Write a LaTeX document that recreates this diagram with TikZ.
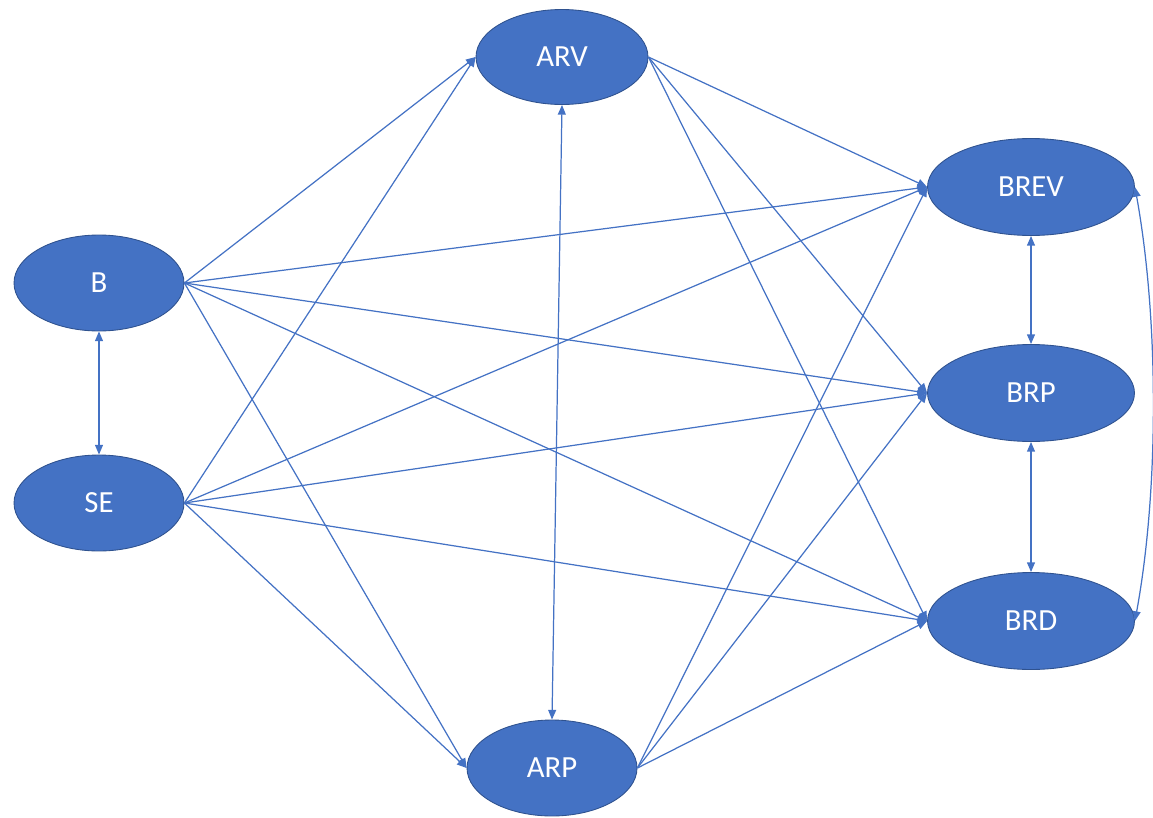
\documentclass[tikz,border=0pt]{standalone}
\usepackage{fontspec}
\setmainfont{Carlito}
\usetikzlibrary{arrows.meta,shapes.geometric}
\definecolor{nodeblue}{HTML}{4472C4}
\definecolor{rimblue}{HTML}{2F528F}
\begin{document}
\begin{tikzpicture}[x=0.02cm,y=-0.02cm,
  var/.style={ellipse,fill=nodeblue,draw=rimblue,line width=0.5pt,
    text=white,font=\fontsize{17.5}{20}\selectfont,inner sep=0pt,
    minimum width=3.4cm,minimum height=1.92cm},
  wide/.style={var,minimum width=4.14cm,minimum height=1.94cm},
  path/.style={draw=nodeblue,line width=0.7pt,
    -{Triangle[length=5.5pt,width=4.5pt]}},
  both/.style={path,{Triangle[length=5.5pt,width=4.5pt]}-{Triangle[length=5.5pt,width=4.5pt]}}]
\useasboundingbox (0,0) rectangle (1153,818);

% latent variables
\node[var] (B)   at (99,283)  {B};
\node[var] (SE)  at (99,503)  {SE};
\node[var,minimum width=3.44cm,minimum height=1.9cm] (ARV) at (562,57) {ARV};
\node[var] (ARP) at (552,768) {ARP};
\node[wide] (BREV) at (1031,187) {BREV};
\node[wide] (BRP)  at (1031,393) {BRP};
\node[wide] (BRD)  at (1031,621) {BRD};

% paths from B and SE
\foreach \s in {B,SE}{
  \foreach \t in {ARV,ARP,BREV,BRP,BRD}{
    \draw[path] (\s.east) -- (\t.west);
  }
}
% paths from ARV and ARP
\foreach \s in {ARV,ARP}{
  \foreach \t in {BREV,BRP,BRD}{
    \draw[path] (\s.east) -- (\t.west);
  }
}

% covariances
\draw[both] (B.south) -- (SE.north);
\draw[both] (ARV.south) -- (ARP.north);
\draw[both] (BREV.south) -- (BRP.north);
\draw[both] (BRP.south) -- (BRD.north);
\draw[both] (BREV.east) .. controls (1159,320) and (1159,490) .. (BRD.east);
\end{tikzpicture}
\end{document}
